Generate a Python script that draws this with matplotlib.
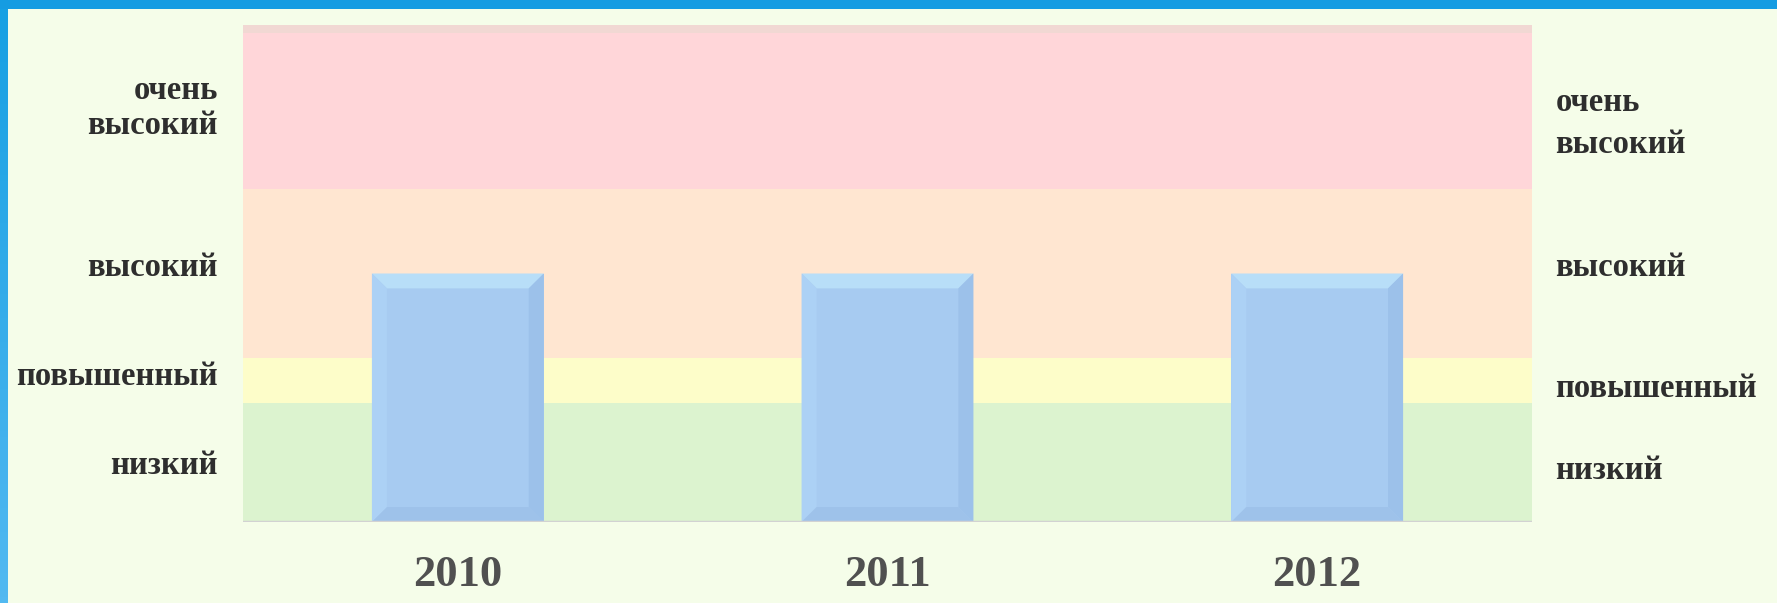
import numpy as np
import matplotlib.pyplot as plt
from matplotlib.patches import Polygon, Rectangle
from matplotlib.colors import LinearSegmentedColormap

# Data
years = ["2010", "2011", "2012"]
risk_level = [50, 50, 50]
level_names = ["низкий", "повышенный", "высокий", "очень\nвысокий"]
level_bounds = [0, 24, 33, 67, 100]
band_colors = ["#dcf3cf", "#fdfdc9", "#ffe6d1", "#ffd6d9"]

W, H = 1777, 603
fig = plt.figure(figsize=(W / 100, H / 100), dpi=100, facecolor="#f5fde9")
ax = fig.add_axes([243 / W, 81 / H, 1289 / W, 497 / H])
ax.set_xlim(-0.5, len(years) - 0.5)
ax.set_ylim(level_bounds[0], level_bounds[-1])
ax.set_facecolor("none")

# coloured risk bands
for lo, hi, c in zip(level_bounds[:-1], level_bounds[1:], band_colors):
    ax.axhspan(lo, hi, color=c, lw=0, zorder=0)
ax.axhspan(98.3, 100, color="#f1d8d3", lw=0, zorder=0.5)

# bars with a bevelled look
bars = ax.bar(range(len(years)), risk_level, width=0.4, color="#a7cbf1", zorder=2)
bx, by = 0.035, 3.0
for r in bars:
    x0, x1 = r.get_x(), r.get_x() + r.get_width()
    y0, y1 = r.get_y(), r.get_y() + r.get_height()
    faces = [
        ([(x0, y1), (x1, y1), (x1 - bx, y1 - by), (x0 + bx, y1 - by)], "#b8def8"),
        ([(x0, y0), (x0, y1), (x0 + bx, y1 - by), (x0 + bx, y0 + by)], "#acd1f5"),
        ([(x1, y0), (x1, y1), (x1 - bx, y1 - by), (x1 - bx, y0 + by)], "#9cc1ea"),
        ([(x0, y0), (x1, y0), (x1 - bx, y0 + by), (x0 + bx, y0 + by)], "#9ec2ea"),
    ]
    for pts, c in faces:
        ax.add_patch(Polygon(pts, closed=True, color=c, lw=0, zorder=3))

ax.axhline(0, color="#d2d2d2", lw=2.5, zorder=4)
for s in ax.spines.values():
    s.set_visible(False)

label_font = dict(family="Liberation Serif", weight="bold", size=23.5, color="#2e2e2e")
mids = np.array([(a + b) / 2 for a, b in zip(level_bounds[:-1], level_bounds[1:])])

ax.set_xticks(range(len(years)), years, family="Liberation Serif",
              weight="bold", size=32, color="#505050")
ax.tick_params(axis="x", length=0, pad=24)
ax.set_yticks(mids + np.array([0, 1.5, 2, 1]), level_names, linespacing=1.2,
              **label_font)
ax.tick_params(axis="y", length=0, pad=18)

ax2 = ax.twinx()
ax2.set_ylim(ax.get_ylim())
ax2.set_yticks(mids + np.array([-1, -1, 2, -1.5]), level_names, linespacing=1.45,
               **label_font)
ax2.tick_params(axis="y", length=0, pad=17)
for s in ax2.spines.values():
    s.set_visible(False)

# blue frame on top and left
fig.add_artist(Rectangle((0, 1 - 9 / H), 1, 9 / H, transform=fig.transFigure,
                         color="#159ce2", lw=0, zorder=10))
side = fig.add_axes([0, 0, 8 / W, 1 - 9 / H])
grad = LinearSegmentedColormap.from_list("edge", ["#17a0e3", "#52b9f1"])
side.imshow(np.linspace(0, 1, 100).reshape(-1, 1), cmap=grad, aspect="auto")
side.axis("off")

fig.savefig("out.png", dpi=100, facecolor=fig.get_facecolor())
